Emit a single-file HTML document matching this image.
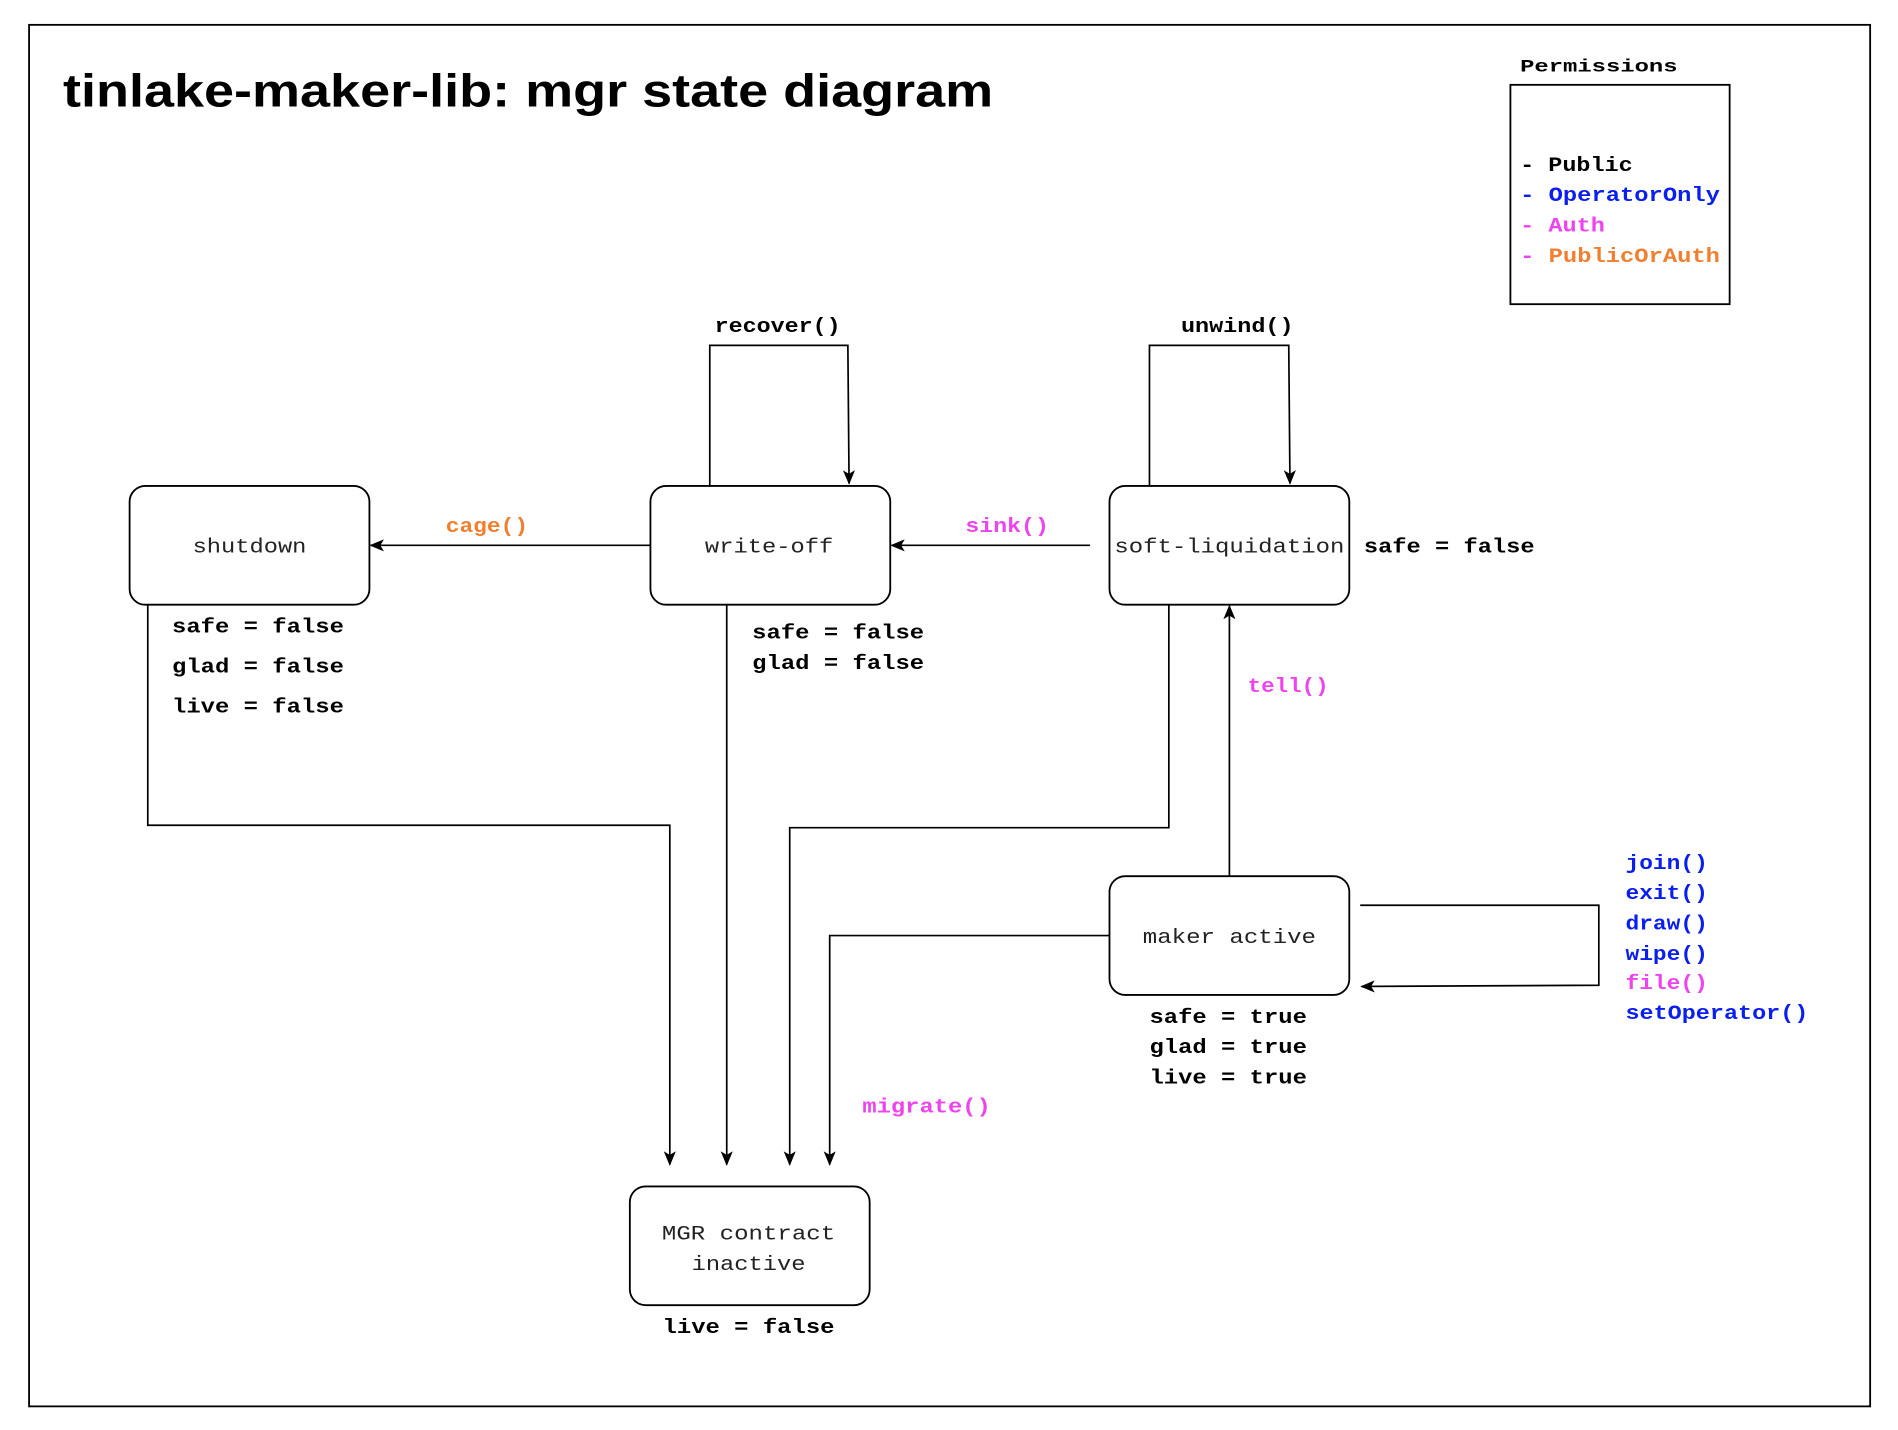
<!DOCTYPE html>
<html><head><meta charset="utf-8"><style>
html,body{margin:0;padding:0;background:#fff;}
svg{display:block}
.m{font-family:"Liberation Mono","DejaVu Sans Mono",monospace;}
.b{font-weight:bold;font-size:16.5px;}
.n{font-size:16.5px;fill:#222;}
.ln{fill:none;stroke:#000;stroke-width:1.4;}
.bx{fill:#fff;stroke:#000;stroke-width:1.5;}
.pk{fill:#ee44ee}.or{fill:#f08030}.bl{fill:#0a1ef0}
</style></head><body>
<svg width="1898" height="1430" viewBox="0 0 1567 1180" preserveAspectRatio="none" xmlns="http://www.w3.org/2000/svg">
<defs><marker id="a" markerWidth="12" markerHeight="10" refX="11" refY="5" orient="auto" markerUnits="userSpaceOnUse"><path d="M0,0 L12,5 L0,10 L3,5 Z" fill="#000"/></marker></defs>
<rect x="24" y="20.5" width="1520" height="1140" fill="none" stroke="#000" stroke-width="1.5"/>
<text x="52" y="88" font-family="Liberation Sans,Arial,sans-serif" font-weight="bold" font-size="38" textLength="768" lengthAdjust="spacingAndGlyphs">tinlake-maker-lib: mgr state diagram</text>
<text class="m" x="1255" y="59" font-weight="bold" font-size="14.5" textLength="130" lengthAdjust="spacingAndGlyphs">Permissions</text>
<rect x="1247" y="70" width="181" height="181" fill="none" stroke="#000" stroke-width="1.5"/>
<text class="m b" x="1255" y="141" textLength="93" lengthAdjust="spacingAndGlyphs">- Public</text>
<text class="m b bl" x="1255" y="166" textLength="165" lengthAdjust="spacingAndGlyphs">- OperatorOnly</text>
<text class="m b pk" x="1255" y="191" textLength="70" lengthAdjust="spacingAndGlyphs">- Auth</text>
<text class="m b" x="1255" y="216" textLength="165" lengthAdjust="spacingAndGlyphs"><tspan class="pk">- </tspan><tspan class="or">PublicOrAuth</tspan></text>

<!-- loops -->
<path class="ln" d="M586,401 V285 H700 L701,399" marker-end="url(#a)"/>
<path class="ln" d="M949,401 V285 H1064 L1065,399" marker-end="url(#a)"/>
<text class="m b" x="590" y="274" textLength="104" lengthAdjust="spacingAndGlyphs">recover()</text>
<text class="m b" x="975" y="274" textLength="93" lengthAdjust="spacingAndGlyphs">unwind()</text>

<!-- horizontal -->
<path class="ln" d="M537,450 H306" marker-end="url(#a)"/>
<path class="ln" d="M900,450 H736" marker-end="url(#a)"/>
<text class="m b or" x="368" y="439" textLength="68" lengthAdjust="spacingAndGlyphs">cage()</text>
<text class="m b pk" x="797" y="439" textLength="69" lengthAdjust="spacingAndGlyphs">sink()</text>
<text class="m b" x="1126" y="456" textLength="141" lengthAdjust="spacingAndGlyphs">safe = false</text>

<!-- down to MGR -->
<path class="ln" d="M122,499 V681 H553 V961" marker-end="url(#a)"/>
<path class="ln" d="M600,499 V961" marker-end="url(#a)"/>
<path class="ln" d="M965,499 V683 H652 V961" marker-end="url(#a)"/>
<path class="ln" d="M916,772 H685 V961" marker-end="url(#a)"/>
<text class="m b pk" x="712" y="918" textLength="106" lengthAdjust="spacingAndGlyphs">migrate()</text>

<path class="ln" d="M1015,723 V500" marker-end="url(#a)"/>
<text class="m b pk" x="1030" y="571" textLength="67" lengthAdjust="spacingAndGlyphs">tell()</text>

<path class="ln" d="M1123,747 H1320 V813 L1124,814" marker-end="url(#a)"/>
<text class="m b bl" x="1342" y="717" textLength="68" lengthAdjust="spacingAndGlyphs">join()</text>
<text class="m b bl" x="1342" y="742" textLength="68" lengthAdjust="spacingAndGlyphs">exit()</text>
<text class="m b bl" x="1342" y="767" textLength="68" lengthAdjust="spacingAndGlyphs">draw()</text>
<text class="m b bl" x="1342" y="792" textLength="68" lengthAdjust="spacingAndGlyphs">wipe()</text>
<text class="m b pk" x="1342" y="816" textLength="68" lengthAdjust="spacingAndGlyphs">file()</text>
<text class="m b bl" x="1342" y="841" textLength="151" lengthAdjust="spacingAndGlyphs">setOperator()</text>

<!-- nodes -->
<rect class="bx" x="107" y="401" width="198" height="98" rx="13"/>
<rect class="bx" x="537" y="401" width="198" height="98" rx="13"/>
<rect class="bx" x="916" y="401" width="198" height="98" rx="13"/>
<rect class="bx" x="916" y="723" width="198" height="98" rx="13"/>
<rect class="bx" x="520" y="979" width="198" height="98" rx="13"/>
<text class="m n" x="206" y="456" text-anchor="middle" textLength="94" lengthAdjust="spacingAndGlyphs">shutdown</text>
<text class="m n" x="635" y="456" text-anchor="middle" textLength="106" lengthAdjust="spacingAndGlyphs">write-off</text>
<text class="m n" x="1015" y="456" text-anchor="middle" textLength="190" lengthAdjust="spacingAndGlyphs">soft-liquidation</text>
<text class="m n" x="1015" y="778" text-anchor="middle" textLength="143" lengthAdjust="spacingAndGlyphs">maker active</text>
<text class="m n" x="618" y="1023" text-anchor="middle" textLength="143" lengthAdjust="spacingAndGlyphs">MGR contract</text>
<text class="m n" x="618" y="1048" text-anchor="middle" textLength="94" lengthAdjust="spacingAndGlyphs">inactive</text>

<text class="m b" x="142" y="522" textLength="142" lengthAdjust="spacingAndGlyphs">safe = false</text>
<text class="m b" x="142" y="555" textLength="142" lengthAdjust="spacingAndGlyphs">glad = false</text>
<text class="m b" x="142" y="588" textLength="142" lengthAdjust="spacingAndGlyphs">live = false</text>
<text class="m b" x="621" y="527" textLength="142" lengthAdjust="spacingAndGlyphs">safe = false</text>
<text class="m b" x="621" y="552" textLength="142" lengthAdjust="spacingAndGlyphs">glad = false</text>
<text class="m b" x="949" y="844" textLength="130" lengthAdjust="spacingAndGlyphs">safe = true</text>
<text class="m b" x="949" y="869" textLength="130" lengthAdjust="spacingAndGlyphs">glad = true</text>
<text class="m b" x="949" y="894" textLength="130" lengthAdjust="spacingAndGlyphs">live = true</text>
<text class="m b" x="547" y="1100" textLength="142" lengthAdjust="spacingAndGlyphs">live = false</text>
</svg>
</body></html>
